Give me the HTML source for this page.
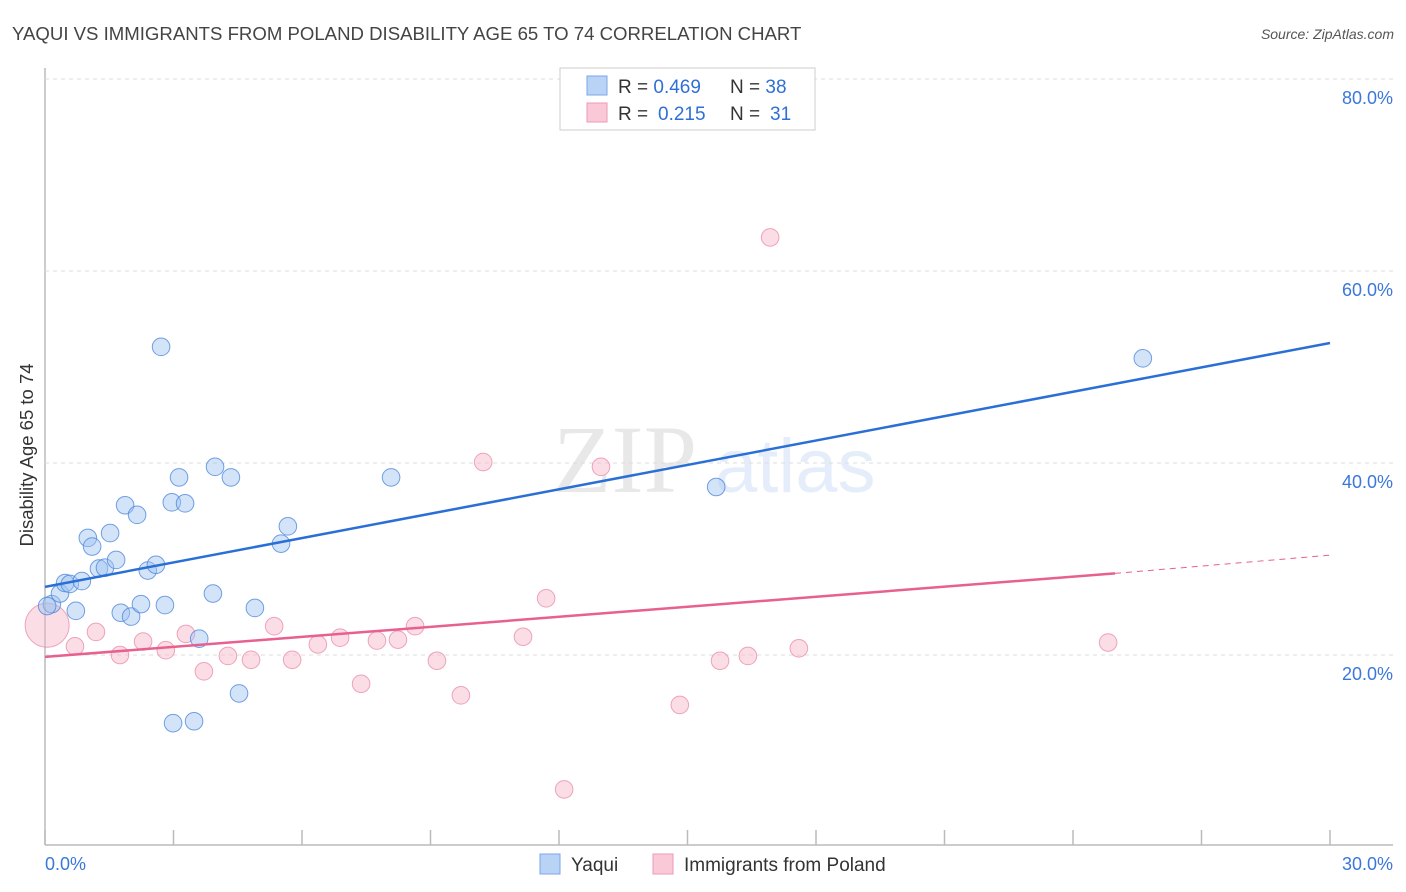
<!DOCTYPE html>
<html><head><meta charset="utf-8"><style>
body{margin:0;background:#fff;font-family:"Liberation Sans",sans-serif;}
svg{display:block}
</style></head><body>
<svg width="1406" height="892" id="svg">
<text x="12" y="40" font-size="18.6" fill="#444">YAQUI VS IMMIGRANTS FROM POLAND DISABILITY AGE 65 TO 74 CORRELATION CHART</text>
<text x="1394" y="39" font-size="14" fill="#555" font-style="italic" text-anchor="end">Source: ZipAtlas.com</text>
<g opacity="0.13">
<text x="553" y="492" font-size="96" font-family="Liberation Serif,serif" fill="#555">ZIP</text>
<text x="715" y="492" font-size="76" fill="#3a7bd5">atlas</text>
</g>
<text transform="translate(33,455) rotate(-90)" font-size="18.5" fill="#333" text-anchor="middle">Disability Age 65 to 74</text>
<g id="grid"></g><g id="marks"></g>
<g>
<rect x="560" y="68" width="255" height="62" fill="#fff" stroke="#ccc"/>
<rect x="587" y="76" width="20" height="19" fill="#b8d3f5" stroke="#7aa7e6"/>
<rect x="587" y="103" width="20" height="19" fill="#f9c9d8" stroke="#ee9ab5"/>
<text x="618" y="93" font-size="19" fill="#333">R = <tspan fill="#2f6fd6">0.469</tspan><tspan x="730">N = </tspan><tspan fill="#2f6fd6">38</tspan></text>
<text x="618" y="120" font-size="19" fill="#333">R = <tspan x="658" fill="#2f6fd6">0.215</tspan><tspan x="730">N = </tspan><tspan x="770" fill="#2f6fd6">31</tspan></text>
</g>
<g>
<rect x="540" y="854" width="20" height="20" fill="#b8d3f5" stroke="#7aa7e6"/>
<text x="571" y="871" font-size="19" fill="#333">Yaqui</text>
<rect x="653" y="854" width="20" height="20" fill="#f9c9d8" stroke="#ee9ab5"/>
<text x="684" y="871" font-size="19" fill="#333">Immigrants from Poland</text>
</g>
</svg>
<script>
const xTicks=[0,3,6,9,12,15,18,21,24,27,30];
const yTicks=[20,40,60,80];
const yTickLabels=["20.0%","40.0%","60.0%","80.0%"];
const yaquiX=[0.16,0.05,0.35,0.47,0.58,0.72,0.86,1.00,1.10,1.26,1.40,1.52,1.66,1.77,1.87,2.01,2.15,2.24,2.40,2.59,2.71,2.80,2.96,2.99,3.13,3.27,3.48,3.60,3.92,3.97,4.34,4.53,4.90,5.51,5.67,8.08,15.67,25.63];
const yaquiY=[25.3,25.1,26.4,27.5,27.4,24.6,27.7,32.2,31.3,29.0,29.1,32.7,29.9,24.4,35.6,24.0,34.6,25.3,28.8,29.4,52.1,25.2,35.9,12.9,38.5,35.8,13.1,21.7,26.4,39.6,38.5,16.0,24.9,31.6,33.4,38.5,37.5,50.9];
const polandX=[0.05,0.70,1.19,1.75,2.29,2.82,3.29,3.71,4.27,4.81,5.35,5.77,6.37,6.89,7.38,7.75,8.24,8.64,9.15,9.71,10.23,11.16,11.70,12.12,12.98,14.82,15.76,16.41,16.93,17.60,24.82];
const polandY=[23.1,20.9,22.4,20.0,21.4,20.5,22.2,18.3,19.9,19.5,23.0,19.5,21.1,21.8,17.0,21.5,21.6,23.0,19.4,15.8,40.1,21.9,25.9,6.0,39.6,14.8,19.4,19.9,63.5,20.7,21.3];
const yaquiTrend=[[0,27.1],[30,52.5]];
const polandTrend=[[0,19.8],[24.98,28.5]];
const polandTrendExt=[[24.98,28.5],[30,30.4]];
const X=v=>45+v/30*1285, Y=v=>847-v*9.6;
const NS="http://www.w3.org/2000/svg";
function mk(t,a,p){const e=document.createElementNS(NS,t);for(const k in a)e.setAttribute(k,a[k]);p.appendChild(e);return e;}
const grid=document.getElementById('grid'),marks=document.getElementById('marks');
const ax=mk('line',{x1:45,y1:68,x2:45,y2:845,stroke:'#bbb','stroke-width':1.5},grid);

const bx=mk('line',{x1:45,y1:845,x2:1393,y2:845,stroke:'#bbb','stroke-width':1.5},grid);

yTicks.forEach((t,i)=>{
 const g=mk('line',{x1:45,y1:Y(t),x2:1393,y2:Y(t),stroke:'#ddd','stroke-dasharray':'4,4'},grid);
 
 const l=mk('text',{x:1393,y:Y(t)+25,'font-size':18,fill:'#3a78d8','text-anchor':'end'},grid);
 l.textContent=yTickLabels[i];
 
});
xTicks.forEach(t=>{
 const k=mk('line',{x1:X(t),y1:830,x2:X(t),y2:845,stroke:'#bbb','stroke-width':1.5},grid);
 
});
const xl0=mk('text',{x:45,y:870,'font-size':18,fill:'#3a78d8'},grid);xl0.textContent='0.0%';

const xl1=mk('text',{x:1393,y:870,'font-size':18,fill:'#3a78d8','text-anchor':'end'},grid);xl1.textContent='30.0%';

polandX.forEach((x,i)=>{
 const c=mk('circle',{cx:X(x),cy:Y(polandY[i]),r:i===0?22:8.8,fill:'rgba(246,180,200,0.45)',stroke:'rgba(232,130,165,0.7)','stroke-width':1},marks);
 
});
yaquiX.forEach((x,i)=>{
 const c=mk('circle',{cx:X(x),cy:Y(yaquiY[i]),r:8.8,fill:'rgba(160,196,240,0.45)',stroke:'rgba(70,130,220,0.75)','stroke-width':1},marks);
 
});
const t1=mk('line',{x1:X(yaquiTrend[0][0]),y1:Y(yaquiTrend[0][1]),x2:X(yaquiTrend[1][0]),y2:Y(yaquiTrend[1][1]),stroke:'#2a6fd6','stroke-width':2.5},marks);

const t2=mk('line',{x1:X(polandTrend[0][0]),y1:Y(polandTrend[0][1]),x2:X(polandTrend[1][0]),y2:Y(polandTrend[1][1]),stroke:'#e8608f','stroke-width':2.5},marks);

const t3=mk('line',{x1:X(polandTrendExt[0][0]),y1:Y(polandTrendExt[0][1]),x2:X(polandTrendExt[1][0]),y2:Y(polandTrendExt[1][1]),stroke:'#e8608f','stroke-width':1,'stroke-dasharray':'6,5'},marks);

</script>
</body></html>
